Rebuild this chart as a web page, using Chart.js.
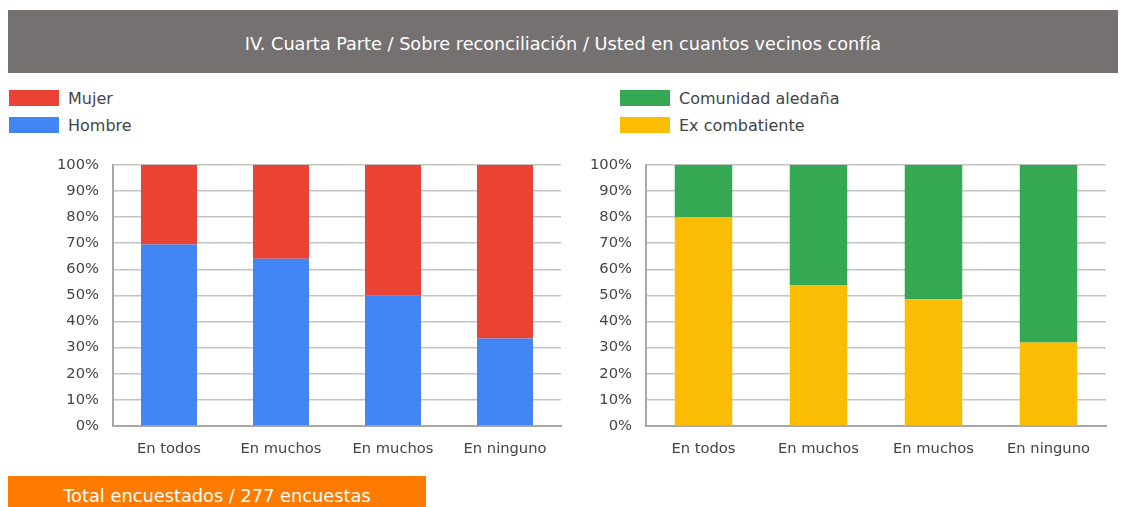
<!DOCTYPE html>
<html>
<head>
<meta charset="utf-8">
<script src="https://cdn.jsdelivr.net/npm/chart.js@4"></script>
<style>
    body { margin: 0; background: #fff; font-family: "DejaVu Sans", sans-serif; }
    #page { position: relative; width: 1129px; height: 507px; overflow: hidden; }
    .titulo { position: absolute; left: 8px; top: 10px; width: 1110px; height: 63px;
              background: #757170; color: #fff; font-size: 17.7px; line-height: 68px; text-align: center; }
    .leyenda { position: absolute; font-size: 16px; color: #444; }
    .leyenda div { height: 27px; line-height: 18px; position: relative; padding-left: 59px; }
    .leyenda span { position: absolute; left: 0; top: 0; width: 50px; height: 16px; }
    .grafico { position: absolute; }
    .total { position: absolute; left: 8px; top: 476px; width: 418px; height: 31px;
             background: #ff7b00; color: #fff; font-size: 17.8px; line-height: 39px; text-align: center; }
</style>
</head>
<body>
<div id="page">
    <div class="titulo">IV. Cuarta Parte / Sobre reconciliación / Usted en cuantos vecinos confía</div>

    <div class="leyenda" style="left:9px; top:90px;">
        <div><span style="background:#ea4335"></span>Mujer</div>
        <div><span style="background:#4285f4"></span>Hombre</div>
    </div>
    <div class="leyenda" style="left:620px; top:90px;">
        <div><span style="background:#34a853"></span>Comunidad aledaña</div>
        <div><span style="background:#fbbc04"></span>Ex combatiente</div>
    </div>

    <div class="grafico" style="left:30px; top:142px; width:540px; height:328px;">
        <canvas id="graficoGenero"></canvas>
    </div>
    <div class="grafico" style="left:570px; top:142px; width:550px; height:328px;">
        <canvas id="graficoTipo"></canvas>
    </div>

    <div class="total">Total encuestados / 277 encuestas</div>
</div>

<script>
// Datos (porcentajes)
const categorias = ['En todos', 'En muchos', 'En muchos', 'En ninguno'];

const hombre = [69.5, 64, 50, 33.5];
const mujer = [30.5, 36, 50, 66.5];

const exCombatiente = [80, 54, 48.5, 32];
const comunidad = [20, 46, 51.5, 68];

/**
 * Crea un gráfico de barras apiladas al 100%
 */
function crearGrafico(id, series, anchoEje, paddingDerecha) {
    const ctx = document.getElementById(id).getContext('2d');
    return new Chart(ctx, {
        type: 'bar',
        data: {
            labels: categorias,
            datasets: series.map(s => ({
                label: s.label,
                data: s.data,
                backgroundColor: s.color,
                borderWidth: 0,
                barPercentage: 1,
                categoryPercentage: 0.5
            }))
        },
        options: {
            responsive: true,
            maintainAspectRatio: false,
            animation: false,
            layout: {
                padding: { top: 6, right: paddingDerecha, bottom: 0, left: 0 }
            },
            plugins: {
                legend: { display: false },
                tooltip: { enabled: false }
            },
            scales: {
                x: {
                    stacked: true,
                    grid: { display: false },
                    border: { color: '#a8a8a8', width: 2 },
                    ticks: {
                        color: '#444',
                        padding: 6,
                        font: { family: 'DejaVu Sans', size: 14.7 }
                    },
                    afterFit: function(axis) { axis.height = 44; }
                },
                y: {
                    stacked: true,
                    min: 0,
                    max: 100,
                    grid: { color: '#c4c4c4', lineWidth: 1.5, drawTicks: false },
                    border: { color: '#a8a8a8', width: 2 },
                    ticks: {
                        stepSize: 10,
                        color: '#444',
                        padding: 14,
                        font: { family: 'DejaVu Sans', size: 14.7 },
                        callback: function(value) { return value + '%'; }
                    },
                    afterFit: function(axis) { axis.width = anchoEje; }
                }
            }
        }
    });
}

crearGrafico('graficoGenero', [
    { label: 'Hombre', data: hombre, color: '#4285f4' },
    { label: 'Mujer', data: mujer, color: '#ea4335' }
], 83, 9);

crearGrafico('graficoTipo', [
    { label: 'Ex combatiente', data: exCombatiente, color: '#fbbc04' },
    { label: 'Comunidad aledaña', data: comunidad, color: '#34a853' }
], 76, 14);
</script>
</body>
</html>
